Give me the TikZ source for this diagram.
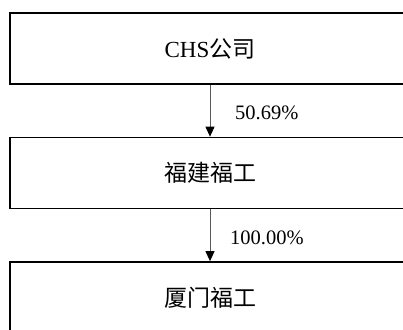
\documentclass[tikz,border=0pt]{standalone}
\usepackage{fontspec}
\setmainfont{Liberation Serif}
\newfontfamily\cjk{Noto Sans CJK SC}
\usetikzlibrary{arrows.meta}
\begin{document}
\begin{tikzpicture}[x=1pt,y=-1pt,
  box/.style={draw=black,line width=1.7pt,fill=white,minimum width=400pt,minimum height=71pt,inner sep=0pt,font=\fontsize{23}{26}\selectfont},
  conn/.style={draw=black!65,line width=1pt,-{Triangle[length=10pt,width=9pt,color=black]},shorten >=0pt},
  pct/.style={anchor=west,inner sep=0pt,font=\fontsize{20.5}{24}\selectfont}]
\useasboundingbox (0,0) rectangle (403,329);
\clip (0,0) rectangle (403,329);
\node[box] (a) at (210,48.5) {CHS{\cjk 公司}};
\node[box] (b) at (210,173) {\cjk 福建福工};
\node[box] (c) at (210,297.5) {\cjk 厦门福工};
\draw[conn] (a.south) -- (b.north);
\draw[conn] (b.south) -- (c.north);
\node[pct] (p1) at (235,113) {50.69\%};
\node[pct] (p2) at (230,238) {100.00\%};
\end{tikzpicture}
\end{document}
